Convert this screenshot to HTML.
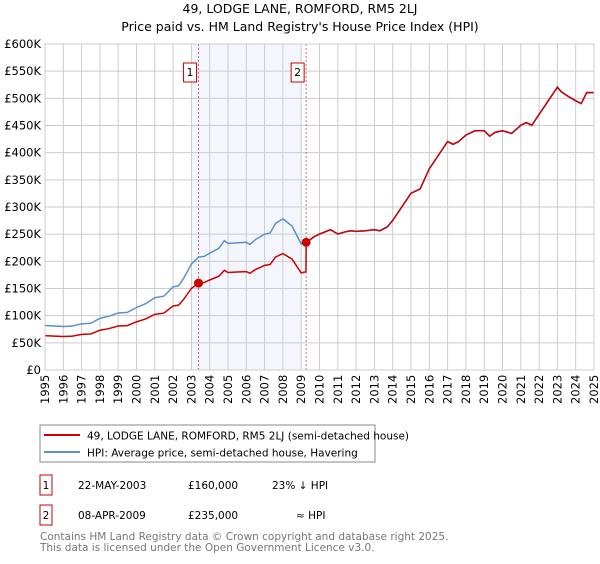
<!DOCTYPE html>
<html><head><meta charset="utf-8"><style>
body{margin:0;background:#fff;font-family:"DejaVu Sans","Liberation Sans",sans-serif;}
svg text{font-family:"DejaVu Sans","Liberation Sans",sans-serif;}
</style></head><body>
<svg id="c" width="600" height="560" xmlns="http://www.w3.org/2000/svg">
<text x="300" y="13" text-anchor="middle" font-size="12.5" fill="#000">49, LODGE LANE, ROMFORD, RM5 2LJ</text>
<text x="300" y="31" text-anchor="middle" font-size="12.5" fill="#000">Price paid vs. HM Land Registry's House Price Index (HPI)</text>
<g id="plot"></g>
<rect x="40" y="425" width="335" height="37" fill="#fff" stroke="#888"/>
<line x1="44" y1="435" x2="80" y2="435" stroke="#cc0000" stroke-width="2"/>
<text x="87" y="439.5" font-size="10.5">49, LODGE LANE, ROMFORD, RM5 2LJ (semi-detached house)</text>
<line x1="44" y1="452" x2="80" y2="452" stroke="#5b8fd0" stroke-width="2"/>
<text x="87" y="456.5" font-size="10.5">HPI: Average price, semi-detached house, Havering</text>
<g font-size="10.5">
<rect x="40" y="475" width="12" height="20" fill="#fff" stroke="#cc0000"/>
<text x="46" y="489" text-anchor="middle">1</text>
<text x="78" y="489">22-MAY-2003</text>
<text x="188" y="489">£160,000</text>
<text x="272" y="489">23% ↓ HPI</text>
<rect x="40" y="505" width="12" height="20" fill="#fff" stroke="#cc0000"/>
<text x="46" y="519" text-anchor="middle">2</text>
<text x="78" y="519">08-APR-2009</text>
<text x="188" y="519">£235,000</text>
<text x="296" y="519">≈ HPI</text>
</g>
<text x="40" y="540" font-size="10.5" fill="#777">Contains HM Land Registry data © Crown copyright and database right 2025.</text>
<text x="40" y="551" font-size="10.5" fill="#777">This data is licensed under the Open Government Licence v3.0.</text>
</svg>
<script>
const hpiYears=[1995,1995.5,1996,1996.5,1997,1997.5,1998,1998.5,1999,1999.5,2000,2000.5,2001,2001.5,2002,2002.3,2002.6,2003,2003.4,2003.7,2004,2004.5,2004.8,2005,2005.5,2006,2006.2,2006.5,2007,2007.3,2007.6,2008,2008.5,2008.8,2009,2009.3,2009.7,2010,2010.6,2011,2011.4,2011.7,2012,2012.5,2013,2013.3,2013.7,2014,2014.5,2015,2015.5,2016,2016.5,2017,2017.3,2017.6,2018,2018.5,2019,2019.3,2019.6,2020,2020.5,2021,2021.3,2021.6,2022,2022.5,2023,2023.2,2023.6,2024,2024.3,2024.6,2025];
const hpiValues=[82,81,80,81,85,86,95,99,105,106,115,122,133,136,153,155,170,195,208,209,215,224,238,233,234,235,231,240,250,252,270,278,265,245,232,235,245,250,258,250,254,256,255,256,258,256,263,275,300,325,333,370,395,420,415,420,432,440,440,430,437,440,435,450,455,450,470,495,520,512,503,495,490,510,510];
const saleYears=[2003.39,2009.27];
const salePrices=[160,235];
const yTicks=[0,50,100,150,200,250,300,350,400,450,500,550,600];
const xTicks=[1995,1996,1997,1998,1999,2000,2001,2002,2003,2004,2005,2006,2007,2008,2009,2010,2011,2012,2013,2014,2015,2016,2017,2018,2019,2020,2021,2022,2023,2024,2025];
const ns="http://www.w3.org/2000/svg";
const X0=45,X1=594,Y0=370,Y1=44;
const xs=y=>X0+(y-1995)/30*(X1-X0);
const ys=v=>Y0-v/600*(Y0-Y1);
const g=document.getElementById('plot');
function mk(t,a){const e=document.createElementNS(ns,t);for(const k in a)e.setAttribute(k,a[k]);g.appendChild(e);return e;}
function hpiAt(t){for(let i=0;i<hpiYears.length-1;i++){if(t>=hpiYears[i]&&t<=hpiYears[i+1]){const f=(t-hpiYears[i])/(hpiYears[i+1]-hpiYears[i]);return hpiValues[i]+f*(hpiValues[i+1]-hpiValues[i]);}}return hpiValues[hpiValues.length-1];}
let r=mk('rect',{x:xs(2003),y:Y1,width:xs(2009)-xs(2003),height:Y0-Y1,fill:'#f3f6fd'});


yTicks.forEach(v=>{let l=mk('line',{x1:X0,x2:X1,y1:ys(v),y2:ys(v),stroke:'#ccc'});


let t=mk('text',{x:X0-4,y:ys(v)+4,'text-anchor':'end','font-size':'11.5'});t.textContent=v===0?'£0':'£'+v+'K';

});
xTicks.forEach(y=>{let l=mk('line',{x1:xs(y),x2:xs(y),y1:Y1,y2:Y0,stroke:'#ccc'});


let t=mk('text',{x:0,y:0,'font-size':'11.5',transform:'translate('+(xs(y)+4)+','+(Y0+34)+') rotate(-90)'});t.textContent=y;

});
saleYears.forEach((s,i)=>{let l=mk('line',{x1:xs(s),x2:xs(s),y1:Y1,y2:Y0,stroke:'#e06060','stroke-dasharray':'2,2'});


let b=mk('rect',{x:xs(s)-15,y:63,width:13,height:19,fill:'#fff',stroke:'#cc0000'});


let t=mk('text',{x:xs(s)-8.5,y:76,'text-anchor':'middle','font-size':'11'});t.textContent=i+1;

});
let hp=mk('polyline',{points:hpiYears.map((y,i)=>xs(y)+','+ys(hpiValues[i])).join(' '),fill:'none',stroke:'#5b8fd0','stroke-width':'1.5'});


const pts=[];
hpiYears.forEach((y,i)=>{const k=y<saleYears[1]?0:1;const ratio=salePrices[k]/hpiAt(saleYears[k]);
if(k===1&&pts.length&&pts[pts.length-1][0]<saleYears[1]){const r0=salePrices[0]/hpiAt(saleYears[0]);pts.push([saleYears[1]-0.01,hpiAt(saleYears[1])*r0]);pts.push([saleYears[1],salePrices[1]]);}
pts.push([y,hpiValues[i]*ratio]);});
let pp=mk('polyline',{points:pts.map(p=>xs(p[0])+','+ys(p[1])).join(' '),fill:'none',stroke:'#cc0000','stroke-width':'1.5'});


saleYears.forEach((s,i)=>{let c=mk('circle',{cx:xs(s),cy:ys(salePrices[i]),r:4.5,fill:'#cc0000'});

});
let ax=mk('rect',{x:X0,y:Y1,width:X1-X0,height:Y0-Y1,fill:'none',stroke:'#ccc'});


</script>
</body></html>
